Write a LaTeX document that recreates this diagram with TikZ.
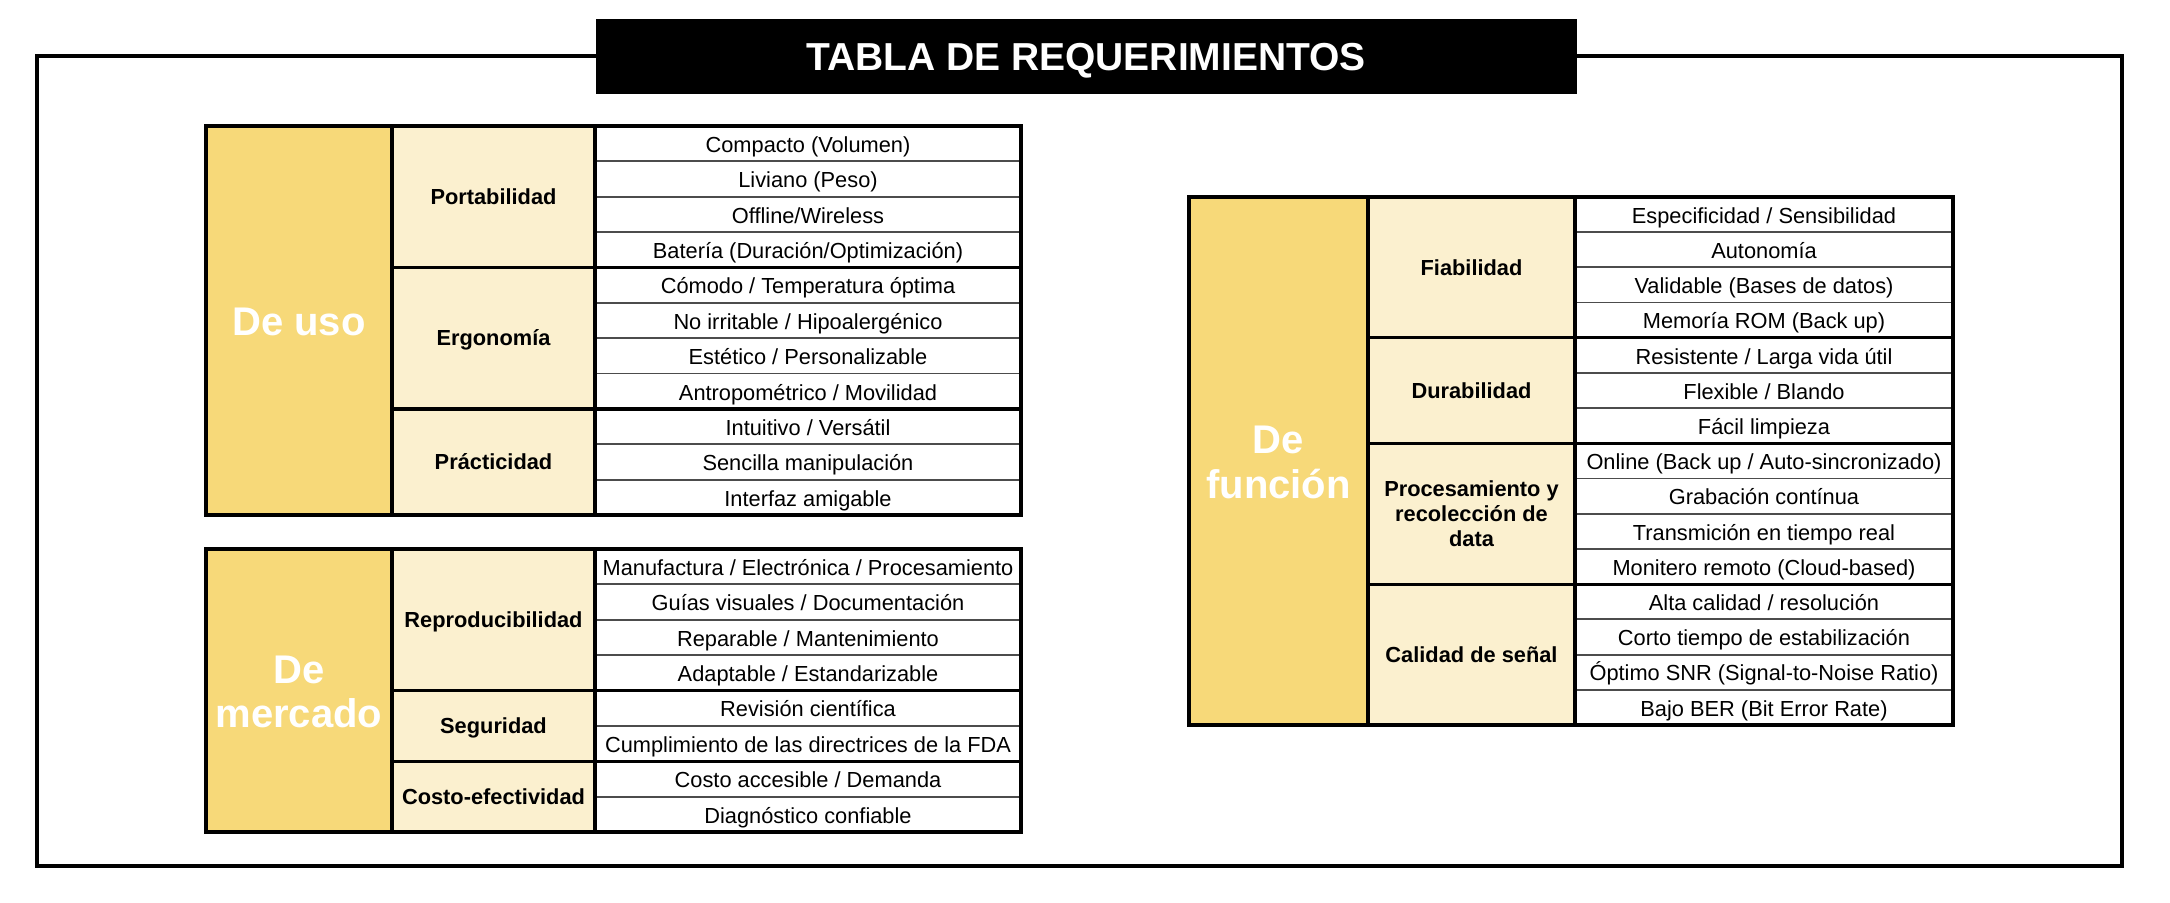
\documentclass[tikz,border=0pt]{standalone}
\usepackage{fontspec}
\setmainfont{Liberation Sans}
\definecolor{catfill}{RGB}{247,217,121}
\definecolor{subfill}{RGB}{251,240,207}

\begin{document}
\begin{tikzpicture}[x=0.5pt,y=0.5pt,yscale=-1,xscale=1,
  frameline/.style={line width=1.6pt},
  rowline/.style={color=black!70,line width=0.9pt},
  itemtext/.style={inner sep=0pt,text height=11pt,text depth=2.2pt,font=\fontsize{10.9}{13}\selectfont},
  subtext/.style={inner sep=0pt,align=center,text height=10pt,text depth=2.2pt,font=\fontsize{10.9}{12.5}\selectfont\bfseries},
  cattext/.style={inner sep=0pt,align=center,text=white,text height=19pt,text depth=4pt,font=\fontsize{20}{22.25}\selectfont\bfseries}]
\path (0,0) rectangle (2170,903); %set diagram size

% frame and title
\draw [frameline] (37,56) rectangle (2122,866);
\draw [fill=black] (596,19.5) rectangle (1576,93);
\draw (1086,56.25) node [inner sep=0pt,text=white,text height=17pt,text depth=2.6pt,font=\fontsize{19.5}{23}\selectfont\bfseries] (title) {TABLA DE REQUERIMIENTOS};

% De uso
\draw [fill=catfill,draw=none] (206,126) rectangle (392,515);
\draw [fill=subfill,draw=none] (392,126) rectangle (595,515);
\draw [rowline] (595,161.36) -- (1021,161.36);
\draw [rowline] (595,196.73) -- (1021,196.73);
\draw [rowline] (595,232.09) -- (1021,232.09);
\draw [rowline] (595,302.82) -- (1021,302.82);
\draw [rowline] (595,338.18) -- (1021,338.18);
\draw [rowline] (595,373.55) -- (1021,373.55);
\draw [rowline] (595,444.27) -- (1021,444.27);
\draw [rowline] (595,479.64) -- (1021,479.64);
\draw [frameline] (206,126) rectangle (1021,515);
\draw [frameline] (392,126) -- (392,515);
\draw [frameline] (595,126) -- (595,515);
\draw [frameline] (392,267.45) -- (1021,267.45);
\draw [frameline] (392,408.91) -- (1021,408.91);

\draw (299,320.5) node [cattext] (uso) {De uso};
\draw (493.5,196.7) node [subtext] (portab) {Portabilidad};
\draw (493.5,338.2) node [subtext] (ergon) {Ergonomía};
\draw (493.5,461.95) node [subtext] (practic) {Prácticidad};
\draw (808,143.68) node [itemtext] (u1) {Compacto (Volumen)};
\draw (808,179.05) node [itemtext] (u2) {Liviano (Peso)};
\draw (808,214.41) node [itemtext] (u3) {Offline/Wireless};
\draw (808,249.77) node [itemtext] (u4) {Batería (Duración/Optimización)};
\draw (808,285.14) node [itemtext] (u5) {Cómodo / Temperatura óptima};
\draw (808,320.5) node [itemtext] (u6) {No irritable / Hipoalergénico};
\draw (808,355.86) node [itemtext] (u7) {Estético / Personalizable};
\draw (808,391.23) node [itemtext] (u8) {Antropométrico / Movilidad};
\draw (808,426.59) node [itemtext] (u9) {Intuitivo / Versátil};
\draw (808,461.95) node [itemtext] (u10) {Sencilla manipulación};
\draw (808,497.32) node [itemtext] (u11) {Interfaz amigable};

% De mercado
\draw [fill=catfill,draw=none] (206,549) rectangle (392,832);
\draw [fill=subfill,draw=none] (392,549) rectangle (595,832);
\draw [rowline] (595,584.38) -- (1021,584.38);
\draw [rowline] (595,619.75) -- (1021,619.75);
\draw [rowline] (595,655.13) -- (1021,655.13);
\draw [rowline] (595,725.88) -- (1021,725.88);
\draw [rowline] (595,796.63) -- (1021,796.63);
\draw [frameline] (206,549) rectangle (1021,832);
\draw [frameline] (392,549) -- (392,832);
\draw [frameline] (595,549) -- (595,832);
\draw [frameline] (392,690.5) -- (1021,690.5);
\draw [frameline] (392,761.25) -- (1021,761.25);

\draw (299,690.5) node [cattext,text height=41.25pt] (mercado) {De\\mercado};
\draw (493.5,619.75) node [subtext] (reprod) {Reproducibilidad};
\draw (493.5,725.9) node [subtext] (segur) {Seguridad};
\draw (493.5,796.6) node [subtext] (costo) {Costo-efectividad};
\draw (808,566.69) node [itemtext] (m1) {Manufactura / Electrónica / Procesamiento};
\draw (808,602.06) node [itemtext] (m2) {Guías visuales / Documentación};
\draw (808,637.44) node [itemtext] (m3) {Reparable / Mantenimiento};
\draw (808,672.81) node [itemtext] (m4) {Adaptable / Estandarizable};
\draw (808,708.19) node [itemtext] (m5) {Revisión científica};
\draw (808,743.56) node [itemtext] (m6) {Cumplimiento de las directrices de la FDA};
\draw (808,778.94) node [itemtext] (m7) {Costo accesible / Demanda};
\draw (808,814.31) node [itemtext] (m8) {Diagnóstico confiable};

% De funcion
\draw [fill=catfill,draw=none] (1189,197) rectangle (1368,725);
\draw [fill=subfill,draw=none] (1368,197) rectangle (1575,725);
\draw [rowline] (1575,232.2) -- (1953,232.2);
\draw [rowline] (1575,267.4) -- (1953,267.4);
\draw [rowline] (1575,302.6) -- (1953,302.6);
\draw [rowline] (1575,373) -- (1953,373);
\draw [rowline] (1575,408.2) -- (1953,408.2);
\draw [rowline] (1575,478.6) -- (1953,478.6);
\draw [rowline] (1575,513.8) -- (1953,513.8);
\draw [rowline] (1575,549) -- (1953,549);
\draw [rowline] (1575,619.4) -- (1953,619.4);
\draw [rowline] (1575,654.6) -- (1953,654.6);
\draw [rowline] (1575,689.8) -- (1953,689.8);
\draw [frameline] (1189,197) rectangle (1953,725);
\draw [frameline] (1368,197) -- (1368,725);
\draw [frameline] (1575,197) -- (1575,725);
\draw [frameline] (1368,337.8) -- (1953,337.8);
\draw [frameline] (1368,443.4) -- (1953,443.4);
\draw [frameline] (1368,584.2) -- (1953,584.2);

\draw (1278.5,461) node [cattext,text height=41.25pt] (funcion) {De\\función};
\draw (1471.5,267.4) node [subtext] (fiab) {Fiabilidad};
\draw (1471.5,390.6) node [subtext] (durab) {Durabilidad};
\draw (1471.5,513.8) node [subtext,text height=35pt] (proces) {Procesamiento y\\recolección de\\data};
\draw (1471.5,654.6) node [subtext] (calidad) {Calidad de señal};
\draw (1764,214.6) node [itemtext] (f1) {Especificidad / Sensibilidad};
\draw (1764,249.8) node [itemtext] (f2) {Autonomía};
\draw (1764,285) node [itemtext] (f3) {Validable (Bases de datos)};
\draw (1764,320.2) node [itemtext] (f4) {Memoría ROM (Back up)};
\draw (1764,355.4) node [itemtext] (f5) {Resistente / Larga vida útil};
\draw (1764,390.6) node [itemtext] (f6) {Flexible / Blando};
\draw (1764,425.8) node [itemtext] (f7) {Fácil limpieza};
\draw (1764,461) node [itemtext] (f8) {Online (Back up / Auto-sincronizado)};
\draw (1764,496.2) node [itemtext] (f9) {Grabación contínua};
\draw (1764,531.4) node [itemtext] (f10) {Transmición en tiempo real};
\draw (1764,566.6) node [itemtext] (f11) {Monitero remoto (Cloud-based)};
\draw (1764,601.8) node [itemtext] (f12) {Alta calidad / resolución};
\draw (1764,637) node [itemtext] (f13) {Corto tiempo de estabilización};
\draw (1764,672.2) node [itemtext] (f14) {Óptimo SNR (Signal-to-Noise Ratio)};
\draw (1764,707.4) node [itemtext] (f15) {Bajo BER (Bit Error Rate)};

\end{tikzpicture}
\end{document}
